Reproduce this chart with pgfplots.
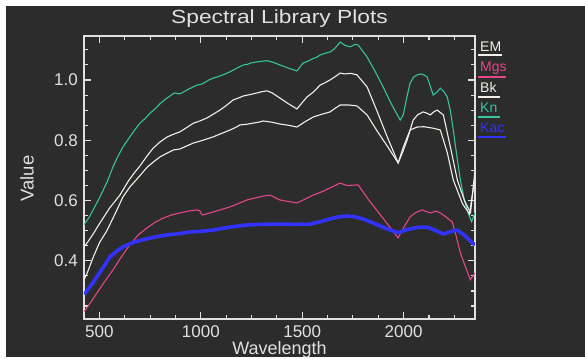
\documentclass[border=0pt]{standalone}
\usepackage{pgfplots}
\pgfplotsset{compat=1.18}
\usepackage{fontspec}
\setmainfont{Liberation Sans}
\newfontfamily\titlefont[FakeStretch=1.2]{Liberation Sans}
\definecolor{bgc}{RGB}{44,44,44}
\definecolor{fgc}{RGB}{225,225,225}
\definecolor{tealc}{RGB}{55,195,155}
\definecolor{magc}{RGB}{228,70,140}
\definecolor{bluec}{RGB}{50,50,250}
\definecolor{whc}{RGB}{240,240,232}
\begin{document}
\begin{tikzpicture}
\fill[white] (-84pt,-39pt) rectangle (501pt,319pt);
\fill[bgc] (-78pt,-38pt) rectangle (501pt,313pt);
\begin{axis}[
  scale only axis, width=391pt, height=283pt,
  at={(0,0)}, anchor=south west,
  xmin=424, xmax=2352, ymin=0.207, ymax=1.146,
  axis line style={fgc, line width=1.3pt},
  every tick/.style={fgc, line width=1.1pt},
  major tick length=7pt, minor tick length=4pt,
  xtick={500,1000,1500,2000},
  minor xtick={625,750,875,1125,1250,1375,1625,1750,1875,2125,2250},
  ytick={0.4,0.6,0.8,1.0},
  minor ytick={0.25,0.3,0.35,0.45,0.5,0.55,0.65,0.7,0.75,0.85,0.9,0.95,1.05,1.1},
  xticklabel style={/pgf/number format/set thousands separator={}},
  yticklabel style={/pgf/number format/fixed, /pgf/number format/fixed zerofill, /pgf/number format/precision=1},
  /pgf/number format/assume math mode=true,
  xticklabel style={font=\fontsize{17}{17}\selectfont, text=fgc, anchor=north, inner sep=0pt, yshift=-6pt},
  yticklabel style={font=\fontsize{17}{17}\selectfont, text=fgc, anchor=east, inner sep=0pt, xshift=-6pt},
  scaled ticks=false,
  title={\titlefont Spectral Library Plots},
  title style={font=\fontsize{19}{19}\selectfont, text=fgc, at={(axis description cs:0.5,1.0212)}, anchor=base, inner sep=0pt},
  xlabel={Wavelength},
  every axis x label/.style={font=\fontsize{18}{18}\selectfont, text=fgc, at={(axis description cs:0.5,-0.1237)}, anchor=base, inner sep=0pt},
  ylabel={Value},
  every axis y label/.style={font=\fontsize{18.5}{18.5}\selectfont, text=fgc, at={(axis description cs:-0.1458,0.4965)}, anchor=center, rotate=90, inner sep=0pt},
  clip=true,
]
% Kn (teal)
\addplot[tealc, line width=1.1pt] coordinates {
(424,0.52) (450,0.545) (470,0.57) (505,0.615) (540,0.665) (567,0.712) (590,0.745) (616,0.778)
(650,0.811) (675,0.835) (700,0.857) (725,0.872) (750,0.89) (775,0.905) (800,0.922) (825,0.936) (848,0.947)
(870,0.957) (897,0.954) (920,0.962) (940,0.97) (960,0.976) (981,0.983) (1000,0.985) (1020,0.992) (1040,1.0) (1060,1.006)
(1080,1.01) (1100,1.015) (1120,1.02) (1144,1.027) (1160,1.033) (1180,1.04) (1210,1.05) (1230,1.052) (1250,1.057) (1277,1.06)
(1300,1.062) (1326,1.064) (1345,1.061) (1360,1.058) (1390,1.05) (1430,1.04) (1474,1.03)
(1504,1.056) (1530,1.063) (1550,1.07) (1570,1.075) (1588,1.083) (1610,1.088) (1637,1.093) (1660,1.104) (1687,1.126)
(1710,1.115) (1736,1.11) (1760,1.118) (1776,1.116) (1820,1.076) (1860,1.028) (1899,0.977) (1940,0.92) (1983,0.867)
(1998,0.884) (2015,0.94) (2032,0.99) (2050,1.01) (2067,1.017) (2085,1.02) (2100,1.017) (2116,1.01)
(2146,0.95) (2165,0.96) (2181,0.973) (2200,0.96) (2215,0.944) (2230,0.9) (2245,0.834) (2262,0.75) (2280,0.668)
(2300,0.6) (2320,0.555) (2335,0.53) (2352,0.56)
};
% EM (upper white)
\addplot[whc, line width=1.1pt] coordinates {
(424,0.446) (440,0.46) (470,0.49) (502,0.525) (550,0.575) (601,0.618) (643,0.665) (670,0.69) (700,0.715)
(735,0.748) (765,0.774) (800,0.795) (834,0.811) (865,0.82) (897,0.828) (930,0.842) (964,0.857) (995,0.864) (1030,0.874)
(1060,0.886) (1094,0.9) (1125,0.915) (1160,0.934) (1185,0.94) (1210,0.947) (1245,0.952) (1277,0.957) (1300,0.961) (1326,0.964)
(1350,0.958) (1390,0.94) (1430,0.922) (1474,0.904) (1500,0.925) (1524,0.944) (1555,0.96) (1588,0.983) (1610,0.99)
(1637,1.0) (1660,1.01) (1687,1.023) (1710,1.02) (1740,1.022) (1770,1.017) (1820,0.977) (1870,0.895) (1920,0.81) (1973,0.725)
(1995,0.76) (2017,0.8) (2047,0.867) (2070,0.885) (2096,0.894) (2115,0.89) (2131,0.884) (2150,0.895) (2166,0.9)
(2196,0.884) (2230,0.78) (2265,0.668) (2300,0.6) (2330,0.56) (2352,0.7)
};
% Bk (lower white)
\addplot[whc, line width=1.1pt] coordinates {
(424,0.337) (440,0.36) (470,0.413) (500,0.46) (537,0.5) (580,0.56) (616,0.612) (650,0.645) (690,0.675)
(736,0.711) (770,0.73) (799,0.745) (830,0.756) (865,0.768) (897,0.771) (930,0.781) (964,0.791) (1010,0.8) (1060,0.811)
(1100,0.822) (1144,0.834) (1170,0.842) (1194,0.851) (1225,0.853) (1259,0.857) (1285,0.86) (1309,0.864) (1350,0.86)
(1390,0.854) (1430,0.85) (1474,0.844) (1515,0.862) (1554,0.877) (1595,0.886) (1637,0.894) (1660,0.905) (1687,0.917)
(1730,0.917) (1770,0.914) (1820,0.884) (1870,0.83) (1920,0.78) (1973,0.725) (2000,0.78) (2032,0.834) (2067,0.844)
(2100,0.845) (2146,0.84) (2181,0.834) (2215,0.76) (2245,0.668) (2290,0.59) (2325,0.555) (2352,0.68)
};
% Mgs (magenta)
\addplot[magc, line width=1.1pt] coordinates {
(424,0.232) (431,0.237) (460,0.265) (488,0.294) (530,0.335) (567,0.37) (610,0.415) (650,0.453) (690,0.485) (734,0.509)
(775,0.528) (815,0.542) (855,0.552) (897,0.559) (940,0.565) (981,0.569) (995,0.566) (1006,0.552) (1030,0.556) (1060,0.562)
(1100,0.57) (1144,0.579) (1185,0.59) (1228,0.602) (1270,0.609) (1309,0.615) (1341,0.618) (1390,0.602) (1430,0.597)
(1474,0.592) (1515,0.605) (1554,0.618) (1600,0.63) (1637,0.642) (1687,0.658) (1720,0.65) (1776,0.652) (1830,0.6) (1900,0.54)
(1973,0.476) (2000,0.51) (2032,0.546) (2060,0.56) (2091,0.569) (2131,0.559) (2160,0.565) (2181,0.559) (2210,0.545)
(2240,0.529) (2260,0.48) (2280,0.426) (2305,0.38) (2329,0.337) (2352,0.36)
};
% Kac (blue, thick)
\addplot[bluec, line width=3.6pt] coordinates {
(424,0.29) (431,0.294) (460,0.32) (488,0.347) (520,0.38) (552,0.413) (585,0.432) (616,0.446) (670,0.462) (734,0.473)
(780,0.48) (833,0.486) (890,0.49) (947,0.496) (1000,0.498) (1060,0.502) (1100,0.507) (1144,0.512) (1190,0.516)
(1228,0.519) (1300,0.521) (1390,0.522) (1460,0.521) (1539,0.522) (1590,0.53) (1637,0.539) (1680,0.546) (1721,0.549)
(1760,0.546) (1800,0.539) (1840,0.528) (1884,0.516) (1930,0.503) (1973,0.493) (2000,0.5) (2032,0.506) (2070,0.511)
(2116,0.512) (2160,0.5) (2196,0.489) (2230,0.497) (2265,0.502) (2300,0.485) (2330,0.465) (2352,0.453)
};
\end{axis}
% legend
\begin{scope}[every node/.style={font=\fontsize{14}{14}\selectfont, anchor=base west, inner sep=0pt}]
\node[text=whc] at (396pt,267pt) {EM};
\draw[whc, line width=1.3pt] (394pt,264pt) -- (418pt,264pt);
\node[text=magc] at (396pt,247pt) {Mgs};
\draw[magc, line width=1.3pt] (394pt,242pt) -- (422pt,242pt);
\node[text=whc] at (396pt,226pt) {Bk};
\draw[whc, line width=1.3pt] (394pt,222pt) -- (416pt,222pt);
\node[text=tealc] at (396pt,206pt) {Kn};
\draw[tealc, line width=1.3pt] (394pt,202pt) -- (416pt,202pt);
\node[text=bluec] at (396pt,186pt) {Kac};
\draw[bluec, line width=1.3pt] (394pt,182pt) -- (422pt,182pt);
\end{scope}
\end{tikzpicture}
\end{document}
